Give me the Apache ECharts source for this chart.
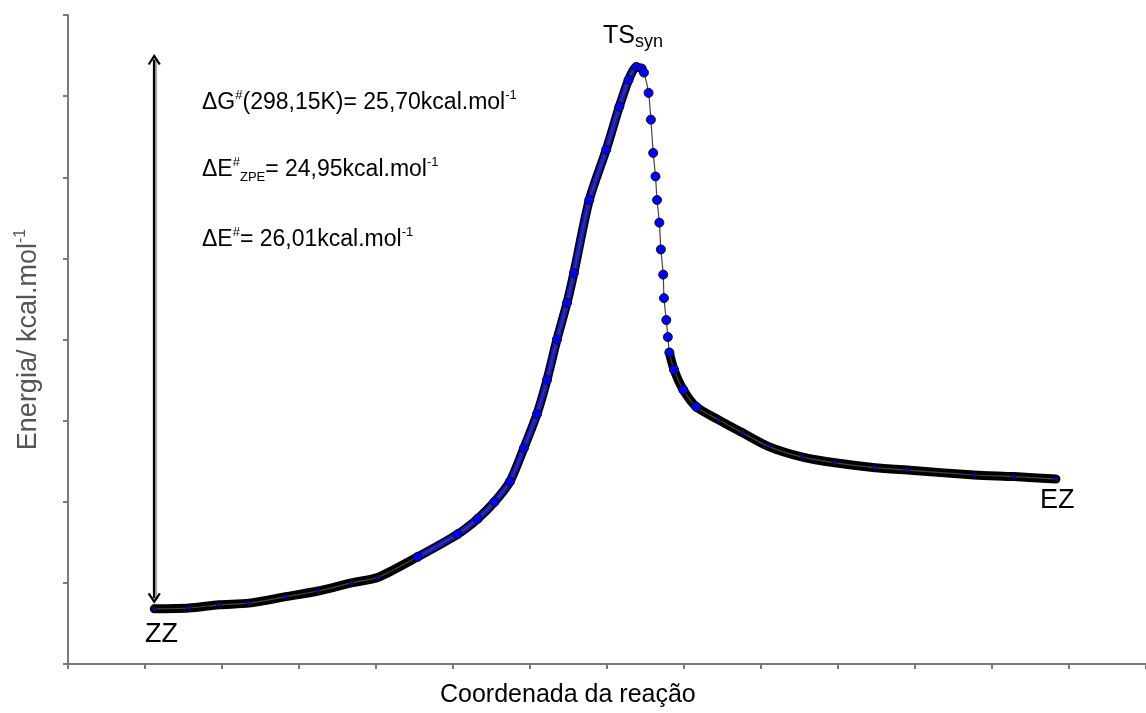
<!DOCTYPE html>
<html>
<head>
<meta charset="utf-8">
<script src="https://cdn.jsdelivr.net/npm/echarts@6/dist/echarts.min.js"></script>
<style>html,body{margin:0;padding:0;background:#fff;}#c{width:1146px;height:713px;}</style>
</head>
<body>
<div id="c"></div>
<script>
// reaction coordinate (arbitrary units) and energy (arbitrary units)
const xValues = [1.12,1.57,1.96,2.35,2.83,3.25,3.68,4.03,4.54,5.06,5.32,5.54,5.74,5.92,6.09,6.22,6.35,6.48,6.57,6.77,6.99,7.16,7.28,7.38,7.45,7.48,7.54,7.57,7.60,7.63,7.65,7.68,7.70,7.73,7.74,7.77,7.79,7.81,7.87,7.99,8.16,8.45,8.76,9.10,9.54,9.96,10.48,10.90,11.77,12.28,12.83];
const energyValues = [0.68,0.69,0.73,0.75,0.83,0.90,1.00,1.07,1.32,1.60,1.79,2.00,2.25,2.66,3.08,3.50,4.00,4.45,4.82,5.72,6.34,6.87,7.20,7.36,7.34,7.29,7.04,6.71,6.30,6.01,5.72,5.44,5.11,4.80,4.51,4.24,4.03,3.84,3.63,3.38,3.17,3.01,2.85,2.68,2.55,2.48,2.42,2.39,2.33,2.31,2.28];
const yTickCount = 8;
const xTickCount = 14;
const stateLabels = ['ZZ', 'TS', 'syn', 'EZ'];
const axisTitles = ['Coordenada da reação', 'Energia/ kcal.mol', '-1'];
const annotationLines = [
  '{n|ΔG}{sup|#}{n|(298,15K)= 25,70kcal.mol}{sup|-1}',
  '{n|ΔE}{sup|#}{sub|ZPE}{n|= 24,95kcal.mol}{sup|-1}',
  '{n|ΔE}{sup|#}{n|= 26,01kcal.mol}{sup|-1}'
];
// double arrow extent (data units)
const arrowX = 1.12, arrowBottom = 0.81, arrowTop = 7.45;

const pts = xValues.map((x, i) => [x, energyValues[i]]);
const darkBand = pts.map(p => (p[0] > 7.45 && p[0] < 7.80) ? [p[0], null] : p);
const blueBand = pts.map(p => (p[0] >= 4.5 && p[0] <= 7.45) ? p : [p[0], null]);

const FONT = 'Liberation Sans, Arial, sans-serif';
const richStyle = {
  n: {fontSize: 23, fontFamily: FONT, color: '#000', lineHeight: 28},
  sup: {fontSize: 13, fontFamily: FONT, color: '#000', lineHeight: 28, verticalAlign: 'top'},
  sub: {fontSize: 13, fontFamily: FONT, color: '#000', lineHeight: 16, verticalAlign: 'bottom'}
};

const chart = echarts.init(document.getElementById('c'), null, {renderer: 'canvas'});
const axisColor = '#7a7a7a';
const SMOOTH = 0.25;
chart.setOption({
  animation: false,
  backgroundColor: '#ffffff',
  grid: {left: 68, top: 15, bottom: 49, right: -7.5, containLabel: false},
  xAxis: {
    type: 'value', min: 0, max: xTickCount, interval: 1,
    axisLine: {show: true, onZero: false, lineStyle: {color: axisColor, width: 2}},
    axisTick: {show: true, inside: false, length: 5, lineStyle: {color: axisColor, width: 2}},
    axisLabel: {show: false},
    splitLine: {show: false}
  },
  yAxis: {
    type: 'value', min: 0, max: yTickCount, interval: 1,
    name: '{a|' + axisTitles[1] + '}{s|' + axisTitles[2] + '}',
    nameLocation: 'middle', nameGap: 23, nameRotate: 90,
    nameTextStyle: {
      rich: {
        a: {fontSize: 27, fontFamily: FONT, color: '#555', lineHeight: 32},
        s: {fontSize: 16, fontFamily: FONT, color: '#555', lineHeight: 32, verticalAlign: 'top'}
      }
    },
    axisLine: {show: true, onZero: false, lineStyle: {color: axisColor, width: 2}},
    axisTick: {show: true, inside: false, length: 5, lineStyle: {color: axisColor, width: 2}},
    axisLabel: {show: false},
    splitLine: {show: false}
  },
  series: [
    {
      type: 'line', data: darkBand, showSymbol: false, connectNulls: false, z: 1,
      smooth: SMOOTH,
      lineStyle: {color: '#000', width: 9, cap: 'round', join: 'round'}, silent: true
    },
    {
      type: 'line', data: blueBand, showSymbol: false, connectNulls: false, z: 2,
      smooth: SMOOTH,
      lineStyle: {color: '#1414e0', width: 5.5, cap: 'round', join: 'round'}, silent: true
    },
    {
      type: 'line', data: pts, z: 3, showSymbol: false,
      smooth: SMOOTH,
      lineStyle: {color: '#444', width: 1.2},
      markLine: {
        silent: true,
        symbol: ['path://M0,9 L5,0 L10,9 L8.6,10 L5,3.6 L1.4,10 Z', 'path://M0,9 L5,0 L10,9 L8.6,10 L5,3.6 L1.4,10 Z'],
        symbolSize: [13, 11],
        label: {show: false},
        lineStyle: {color: '#000', width: 2.2, type: 'solid', shadowColor: 'rgba(0,0,0,0.35)', shadowOffsetX: 2, shadowBlur: 0},
        data: [[{coord: [arrowX, arrowBottom]}, {coord: [arrowX, arrowTop]}]]
      }
    },
    {
      type: 'scatter', data: pts, z: 10,
      symbol: 'circle',
      symbolSize: v => (v[0] > 4.4 && v[0] < 8.3) ? 9 : 4,
      itemStyle: {color: '#0000ff', borderColor: '#111', borderWidth: 1, opacity: 1},
      silent: true
    }
  ],
  graphic: [
    {type: 'text', left: 202, top: 89, style: {text: annotationLines[0], rich: richStyle}},
    {type: 'text', left: 202, top: 156, style: {text: annotationLines[1], rich: richStyle}},
    {type: 'text', left: 202, top: 226, style: {text: annotationLines[2], rich: richStyle}},
    {type: 'text', left: 603, top: 24, style: {
      text: '{t|' + stateLabels[1] + '}{s|' + stateLabels[2] + '}',
      rich: {
        t: {fontSize: 25, fontFamily: FONT, color: '#000', lineHeight: 30},
        s: {fontSize: 18, fontFamily: FONT, color: '#000', lineHeight: 22, verticalAlign: 'bottom'}
      }
    }},
    {type: 'text', left: 145, top: 621, style: {text: stateLabels[0], fontSize: 27, fontFamily: FONT, fill: '#000'}},
    {type: 'text', left: 1040, top: 487, style: {text: stateLabels[3], fontSize: 27, fontFamily: FONT, fill: '#000'}},
    {type: 'text', left: 440, top: 683, style: {text: axisTitles[0], fontSize: 25, fontFamily: FONT, fill: '#000'}}
  ]
});
</script>
</body>
</html>
